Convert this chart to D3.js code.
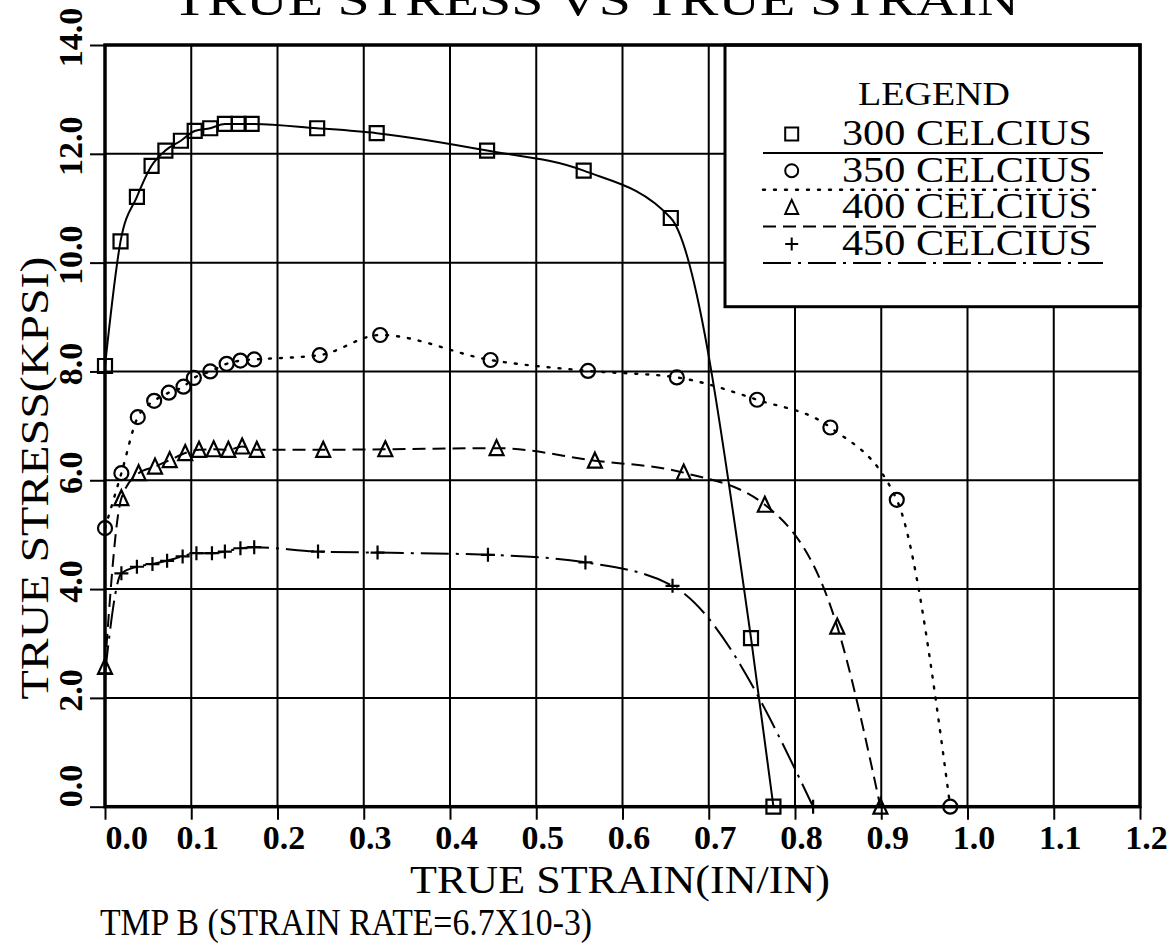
<!DOCTYPE html>
<html>
<head>
<meta charset="utf-8">
<script src="https://cdn.jsdelivr.net/npm/d3@7"></script>
<style>
  html, body { margin: 0; padding: 0; background: #fff; }
  svg { display: block; }
  text { font-family: "Liberation Serif", "DejaVu Serif", serif; fill: #000; }
</style>
</head>
<body>
<div id="chart"></div>
<script>
// true stress vs true strain, four test temperatures

// [strain, stress] pairs
const series300 = [
  [0.000, 8.10], [0.018, 10.39], [0.037, 11.21], [0.054, 11.78], [0.070, 12.06],
  [0.088, 12.24], [0.104, 12.42], [0.122, 12.47], [0.139, 12.55], [0.155, 12.55],
  [0.170, 12.55], [0.246, 12.47], [0.315, 12.38], [0.443, 12.06], [0.555, 11.69],
  [0.656, 10.82], [0.749, 3.10], [0.775, 0.00]
]
const series350 = [
  [0.000, 5.12], [0.019, 6.13], [0.038, 7.16], [0.057, 7.46], [0.074, 7.61],
  [0.091, 7.72], [0.103, 7.88], [0.122, 8.00], [0.141, 8.14], [0.157, 8.20],
  [0.173, 8.22], [0.249, 8.30], [0.319, 8.67], [0.447, 8.21], [0.560, 8.01],
  [0.663, 7.89], [0.756, 7.48], [0.841, 6.97], [0.918, 5.64], [0.980, 0.00]
]
const series400 = [
  [0.000, 2.57], [0.019, 5.67], [0.039, 6.13], [0.058, 6.25], [0.075, 6.37],
  [0.093, 6.50], [0.109, 6.56], [0.126, 6.57], [0.143, 6.56], [0.159, 6.62],
  [0.176, 6.56], [0.253, 6.56], [0.325, 6.57], [0.454, 6.59], [0.568, 6.36],
  [0.671, 6.14], [0.765, 5.55], [0.849, 3.31], [0.899, 0.00]
]
const series450 = [
  [0.000, 2.45], [0.019, 4.29], [0.037, 4.41], [0.055, 4.46], [0.072, 4.52],
  [0.090, 4.60], [0.106, 4.66], [0.124, 4.66], [0.139, 4.69], [0.157, 4.75],
  [0.173, 4.77], [0.247, 4.69], [0.316, 4.67], [0.444, 4.63], [0.557, 4.49],
  [0.658, 4.06], [0.821, 0.00]
]

const seriesLabels = ['300 CELCIUS', '350 CELCIUS', '400 CELCIUS', '450 CELCIUS']
const xTicks = [0, 0.1, 0.2, 0.3, 0.4, 0.5, 0.6, 0.7, 0.8, 0.9, 1.0, 1.1, 1.2]
const yTicks = [0, 2, 4, 6, 8, 10, 12, 14]

const seriesData = [series300, series350, series400, series450]
const markers = ['square', 'circle', 'triangle', 'plus']
const dashes = [null, '2,9', '13,7', '28,7,3,7']

const width = 1174
const height = 947
const plotL = 105, plotR = 1140, plotT = 45, plotB = 806.7
const serif = '"Liberation Serif", "DejaVu Serif", serif'

const x = d3.scaleLinear().domain([0, 1.2]).range([plotL, plotR])
const y = d3.scaleLinear().domain([0, 14]).range([plotB, plotT])

const svg = d3.select('#chart')
  .append('svg')
  .attr('width', width)
  .attr('height', height)

// grid
const grid = svg.append('g').attr('stroke', '#000').attr('stroke-width', 2)
grid.selectAll('line.gx')
  .data(xTicks.slice(1, -1))
  .join('line')
  .attr('class', 'gx')
  .attr('x1', d => x(d)).attr('x2', d => x(d))
  .attr('y1', plotT).attr('y2', plotB)
grid.selectAll('line.gy')
  .data(yTicks.slice(1, -1))
  .join('line')
  .attr('class', 'gy')
  .attr('x1', plotL).attr('x2', plotR)
  .attr('y1', d => y(d)).attr('y2', d => y(d))

// curves
const line = d3.line()
  .x(d => x(d[0]))
  .y(d => y(d[1]))
  .curve(d3.curveMonotoneX)

svg.append('g')
  .selectAll('path')
  .data(seriesData)
  .join('path')
  .attr('d', line)
  .attr('fill', 'none')
  .attr('stroke', '#000')
  .attr('stroke-width', (d, i) => i === 1 ? 2.4 : 2)
  .attr('stroke-linecap', (d, i) => i === 1 ? 'round' : 'butt')
  .attr('stroke-dasharray', (d, i) => dashes[i])

// marker shapes, centred on 0,0
function markerPath(type, s) {
  const h = s / 2
  if (type === 'square') return `M${-h},${-h}H${h}V${h}H${-h}Z`
  if (type === 'circle') return `M${-h},0A${h},${h} 0 1,0 ${h},0A${h},${h} 0 1,0 ${-h},0Z`
  if (type === 'triangle') return `M0,${-h - 1}L${h},${h}L${-h},${h}Z`
  return `M${-h},0H${h}M0,${-h}V${h}`
}

const marks = svg.append('g')
seriesData.forEach((data, i) => {
  marks.append('g')
    .selectAll('path')
    .data(data)
    .join('path')
    .attr('transform', d => `translate(${x(d[0])},${y(d[1])})`)
    .attr('d', markerPath(markers[i], 14))
    .attr('fill', 'none')
    .attr('stroke', '#000')
    .attr('stroke-width', 2.2)
})

// legend
const legend = svg.append('g')
legend.append('rect')
  .attr('x', 725).attr('y', plotT)
  .attr('width', plotR - 725).attr('height', 306.7 - plotT)
  .attr('fill', '#fff')
  .attr('stroke', '#000')
  .attr('stroke-width', 3)
legend.append('text')
  .attr('x', 858).attr('y', 105)
  .attr('font-size', 33)
  .attr('textLength', 152).attr('lengthAdjust', 'spacingAndGlyphs')
  .text('LEGEND')

const rows = legend.selectAll('g.row')
  .data(seriesLabels)
  .join('g')
  .attr('class', 'row')
  .attr('transform', (d, i) => `translate(0,${145 + i * 36.7})`)
rows.append('path')
  .attr('transform', 'translate(791.7,-11)')
  .attr('d', (d, i) => markerPath(markers[i], 13))
  .attr('fill', 'none')
  .attr('stroke', '#000')
  .attr('stroke-width', 2)
rows.append('text')
  .attr('x', 842).attr('y', 0)
  .attr('font-size', 35)
  .attr('textLength', 250).attr('lengthAdjust', 'spacingAndGlyphs')
  .text(d => d)
rows.append('line')
  .attr('x1', 763).attr('x2', 1103)
  .attr('y1', 8).attr('y2', 8)
  .attr('stroke', '#000')
  .attr('stroke-width', (d, i) => i === 1 ? 2.4 : 2)
  .attr('stroke-linecap', (d, i) => i === 1 ? 'round' : 'butt')
  .attr('stroke-dasharray', (d, i) => dashes[i])

// frame
svg.append('rect')
  .attr('x', plotL).attr('y', plotT)
  .attr('width', plotR - plotL).attr('height', plotB - plotT)
  .attr('fill', 'none')
  .attr('stroke', '#000')
  .attr('stroke-width', 3.5)

// axes
const fmt = d3.format('.1f')
const xAxis = svg.append('g')
  .attr('transform', `translate(0,${plotB})`)
  .call(d3.axisBottom(x).tickValues(xTicks).tickSize(13).tickFormat(fmt))
xAxis.select('.domain').remove()
xAxis.selectAll('.tick line').attr('stroke-width', 2)
xAxis.selectAll('.tick text')
  .style('font-family', serif)
  .style('font-size', '34px')
  .style('font-weight', 'bold')
  .attr('y', 42).attr('dy', null)
  .attr('x', (d, i) => i === 0 ? 0 : 6)
  .attr('text-anchor', (d, i) => i === 0 ? 'start' : 'middle')

const yAxis = svg.append('g')
  .attr('transform', `translate(${plotL},0)`)
  .call(d3.axisLeft(y).tickValues(yTicks).tickSize(15).tickFormat(fmt))
yAxis.select('.domain').remove()
yAxis.selectAll('.tick line').attr('stroke-width', 2)
yAxis.selectAll('.tick text')
  .style('font-family', serif)
  .style('font-size', '34px')
  .style('font-weight', 'bold')
  .attr('transform', 'rotate(-90)')
  .attr('dy', null)
  .attr('y', -23)
  .attr('x', (d, i) => i === 0 ? 0 : 8)
  .attr('text-anchor', (d, i) => i === 0 ? 'start' : 'middle')

// titles
svg.append('text')
  .attr('x', 172).attr('y', 15)
  .attr('font-size', 45)
  .attr('textLength', 847).attr('lengthAdjust', 'spacingAndGlyphs')
  .text('TRUE STRESS VS TRUE STRAIN')

svg.append('text')
  .attr('transform', 'translate(48,478) rotate(-90)')
  .attr('text-anchor', 'middle')
  .attr('font-size', 41)
  .style('opacity', 0.999)
  .attr('textLength', 443).attr('lengthAdjust', 'spacingAndGlyphs')
  .text('TRUE STRESS(KPSI)')

svg.append('text')
  .attr('x', 620).attr('y', 893)
  .attr('text-anchor', 'middle')
  .attr('font-size', 40)
  .attr('textLength', 420).attr('lengthAdjust', 'spacingAndGlyphs')
  .text('TRUE STRAIN(IN/IN)')

svg.append('text')
  .attr('x', 100).attr('y', 935)
  .attr('font-size', 38)
  .attr('textLength', 492).attr('lengthAdjust', 'spacingAndGlyphs')
  .text('TMP B (STRAIN RATE=6.7X10-3)')
</script>
</body>
</html>
